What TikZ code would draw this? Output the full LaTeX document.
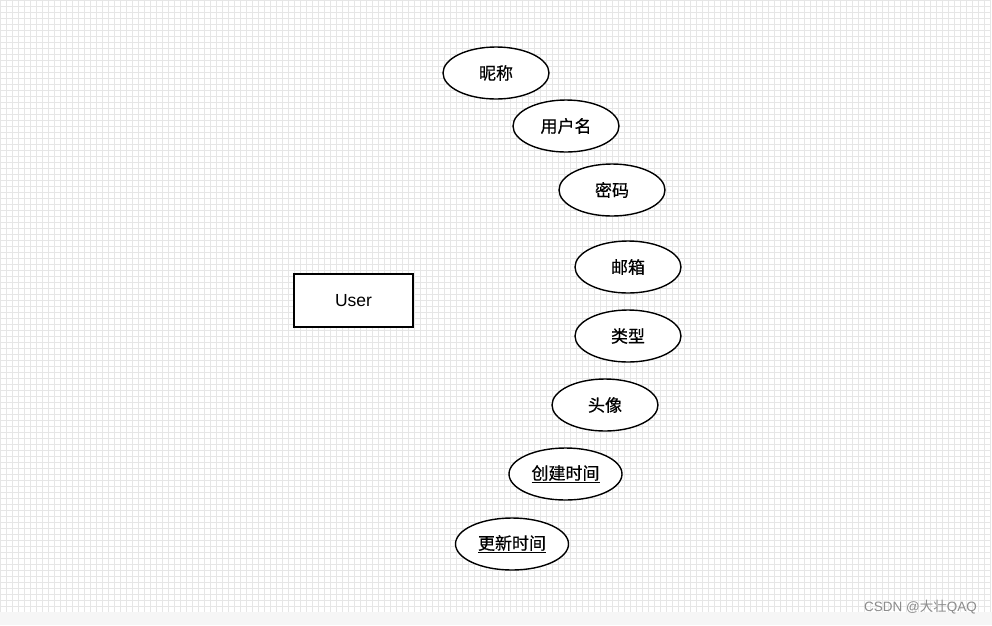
\documentclass[tikz,border=0pt]{standalone}
\usepackage{fontspec}
\setmainfont{Liberation Sans}
\newfontfamily\cjk{Noto Sans CJK SC}
\newfontfamily\cjkb[FakeBold=0.5]{Noto Sans CJK SC}
\usetikzlibrary{shapes.geometric}
\definecolor{gridc}{HTML}{E6E6E6}
\definecolor{stripc}{HTML}{F6F6F6}
\definecolor{wmc}{HTML}{8C8C8C}
\begin{document}
\begin{tikzpicture}[x=1pt,y=-1pt,
  attr/.style={draw=black, line width=1.4pt, fill=white, ellipse, minimum width=106pt, minimum height=52pt, inner sep=0pt, font=\cjkb\fontsize{17}{20}\selectfont},
  wide/.style={minimum width=113pt},
  ent/.style={draw=black, line width=1.4pt, fill=white, rectangle, minimum width=119pt, minimum height=53pt, inner sep=0pt, font=\fontsize{17.5}{20}\selectfont},
  gridline/.style={draw=gridc, line width=0.7pt}]
\useasboundingbox (0,0) rectangle (992,625);
\fill[white] (0,0) rectangle (992,625);
\draw[gridline, step=6pt] (0,0) grid (990,612);
\fill[stripc] (0,612) rectangle (992,625);
\node[ent] (user) at (353.5,300.5) {User};
\node[attr] (nick) at (496,73) {昵称};
\node[attr] (uname) at (566,126) {用户名};
\node[attr] (pwd) at (612,190) {密码};
\node[attr] (mail) at (628,267) {邮箱};
\node[attr] (type) at (628,336) {类型};
\node[attr] (avatar) at (605,405) {头像};
\node[attr, wide] (ctime) at (565.5,474) {\underline{创建时间}};
\node[attr, wide] (utime) at (512,544) {\underline{更新时间}};
\node[anchor=east, text=wmc, inner sep=0pt, font=\fontsize{13.5}{15}\selectfont] (wm) at (977,607) {CSDN @{\cjk 大壮}QAQ};
\end{tikzpicture}
\end{document}
